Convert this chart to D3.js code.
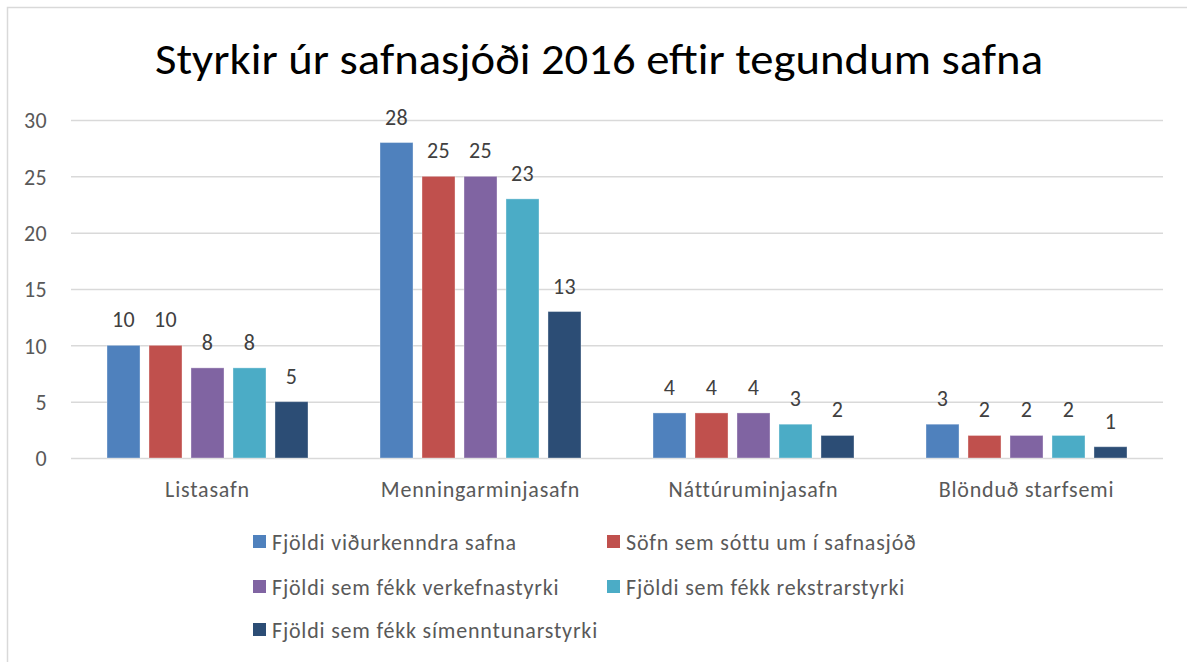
<!DOCTYPE html>
<html><head><meta charset="utf-8">
<script src="https://cdn.jsdelivr.net/npm/d3@7"></script>
<style>body{margin:0;background:#fff}svg{display:block}</style>
</head><body>
<svg id="c" width="1187" height="662"></svg>
<script>
const title = "Styrkir úr safnasjóði 2016 eftir tegundum safna";
const categories = ["Listasafn", "Menningarminjasafn", "Náttúruminjasafn", "Blönduð starfsemi"];
const seriesNames = ["Fjöldi viðurkenndra safna", "Söfn sem sóttu um í safnasjóð", "Fjöldi sem fékk verkefnastyrki", "Fjöldi sem fékk rekstrarstyrki", "Fjöldi sem fékk símenntunarstyrki"];
const viðurkennd = [10, 28, 4, 3];
const sottu = [10, 25, 4, 2];
const verkefni = [8, 25, 4, 2];
const rekstur = [8, 23, 3, 2];
const simenntun = [5, 13, 2, 1];
const seriesValues = [viðurkennd, sottu, verkefni, rekstur, simenntun];
const colors = ["#4F81BD", "#C0504D", "#8064A2", "#4BACC6", "#2C4D75"];
const yTicks = [0, 5, 10, 15, 20, 25, 30];

const FONT = "Carlito, Calibri, Lato, 'Open Sans', sans-serif";
const FS = 22, LS = "0.8px";
const svg = d3.select("#c");
svg.append("rect").attr("x", 7.5).attr("y", 7.5).attr("width", 1200).attr("height", 700)
  .attr("fill", "#fff").attr("stroke", "#d9d9d9").attr("stroke-width", 1.5);

const x0 = d3.scaleBand().domain(categories).range([71, 1163]).paddingInner(0).paddingOuter(0);
const x1 = d3.scaleBand().domain(d3.range(seriesNames.length)).range([36, x0.bandwidth() - 36]).paddingInner(0.214).paddingOuter(0);
const y = d3.scaleLinear().domain([0, 30]).range([458, 120]);

// title
const t = svg.append("text").attr("x", 599).attr("y", 74).attr("text-anchor", "middle")
  .attr("font-family", FONT).attr("font-size", 44).attr("fill", "#000").text(title);
const tw = t.node().getComputedTextLength();
if (tw > 0) t.attr("textLength", 888).attr("lengthAdjust", "spacingAndGlyphs");

// grid
const yAxis = d3.axisLeft(y).tickValues(yTicks).tickSize(-(1163 - 71)).tickPadding(24);
const gy = svg.append("g").attr("transform", "translate(71,0)").call(yAxis);
gy.select(".domain").remove();
gy.selectAll(".tick line").attr("stroke", "#d9d9d9").attr("stroke-width", 1.5);
gy.selectAll(".tick text").attr("font-family", FONT).attr("font-size", FS).attr("letter-spacing", "0.4px").attr("fill", "#595959").attr("dy", "0.35em");

// x axis
const xAxis = d3.axisBottom(x0).tickSize(0).tickPadding(23);
const gx = svg.append("g").attr("transform", "translate(0,458)").call(xAxis);
gx.select(".domain").remove();
gx.selectAll(".tick text").attr("font-family", FONT).attr("font-size", FS).attr("letter-spacing", LS).attr("fill", "#595959").attr("dy", "0.71em");

// bars
const groups = svg.append("g").selectAll("g").data(categories).join("g")
  .attr("transform", d => `translate(${x0(d)},0)`);
groups.each(function(cat, ci) {
  const g = d3.select(this);
  seriesValues.forEach((vals, si) => {
    const v = vals[ci];
    g.append("rect").attr("x", x1(si)).attr("width", x1.bandwidth())
      .attr("y", y(v)).attr("height", y(0) - y(v)).attr("fill", colors[si])
      .attr("stroke", "#fff").attr("stroke-opacity", 0.35).attr("stroke-width", 1);
    g.append("text").attr("x", x1(si) + x1.bandwidth() / 2).attr("y", y(v) - 18)
      .attr("text-anchor", "middle").attr("font-family", FONT).attr("font-size", FS).attr("letter-spacing", "0.4px")
      .attr("fill", "#404040").text(v);
  });
});

// legend
const legPos = [[253, 550], [607, 550], [253, 595], [607, 595], [253, 638]];
const leg = svg.append("g").selectAll("g").data(seriesNames).join("g")
  .attr("transform", (d, i) => `translate(${legPos[i][0]},${legPos[i][1]})`);
leg.append("rect").attr("x", 0).attr("y", -15).attr("width", 13).attr("height", 13).attr("fill", (d, i) => colors[i]);
leg.append("text").attr("x", 19).attr("y", 0).attr("font-family", FONT).attr("font-size", FS).attr("letter-spacing", LS)
  .attr("fill", "#595959").text(d => d);
</script>
</body></html>
